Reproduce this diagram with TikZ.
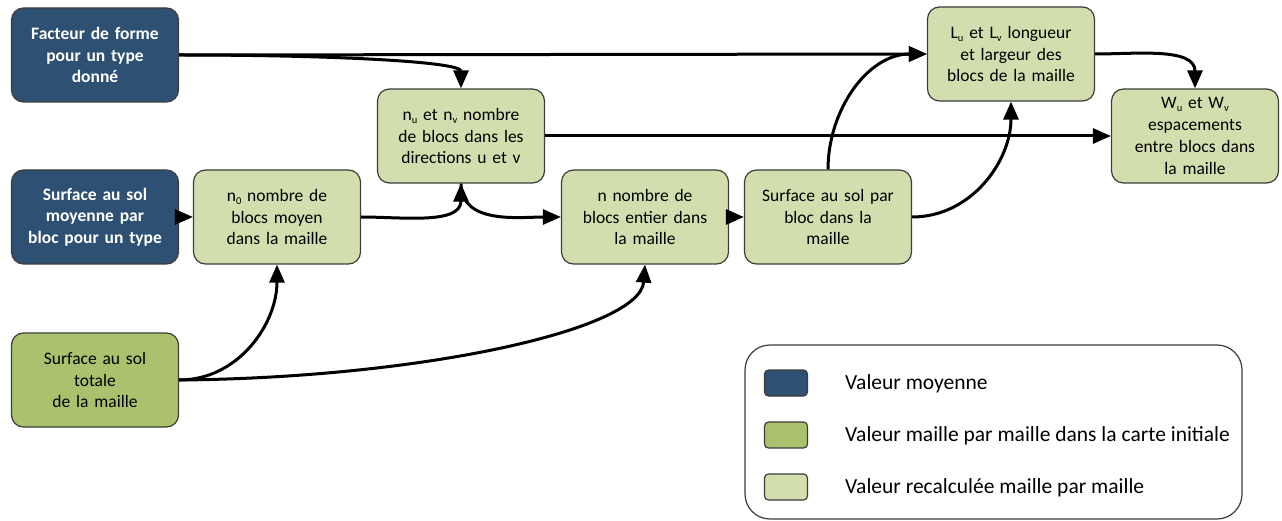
\documentclass[tikz,border=0pt]{standalone}
\usepackage{fontspec}
\setmainfont{Carlito}
\usetikzlibrary{arrows.meta}
\definecolor{darkbox}{HTML}{2E5173}
\definecolor{midbox}{HTML}{AAC16D}
\definecolor{lightbox}{HTML}{D2DEAE}
\definecolor{boxline}{HTML}{3C3C3C}
\newcommand{\lsub}[1]{\raisebox{-0.35ex}{\fontsize{10.5}{10.5}\selectfont #1}}
\begin{document}
\begin{tikzpicture}[x=1pt,y=-1pt,
  box/.style={draw=boxline,line width=1.2pt,rounded corners=12pt,minimum width=167pt,minimum height=94pt,
    text width=160pt,align=center,inner sep=2pt,font=\fontsize{17.5}{21.7}\selectfont},
  dark/.style={box,fill=darkbox,text=white,font=\fontsize{17.5}{21.7}\selectfont\bfseries},
  mid/.style={box,fill=midbox},
  light/.style={box,fill=lightbox},
  swatch/.style={draw=boxline,line width=1.2pt,rounded corners=4pt,minimum width=43pt,minimum height=26pt,inner sep=0pt},
  legtext/.style={anchor=west,inner sep=0pt,font=\fontsize{21.5}{25}\selectfont},
  arr/.style={line width=3pt,-{Triangle[length=18pt,width=15pt]}}]
\useasboundingbox (0,0) rectangle (1282,521);
\node[dark] (A) at (95,55) {Facteur de forme\\pour un type\\donné};
\node[dark] (B) at (95,217) {Surface au sol\\moyenne par\\bloc pour un type};
\node[mid] (C) at (95,380) {Surface au sol\\totale\\de la maille};
\node[light] (D) at (277,217) {n\lsub{0} nombre de\\blocs moyen\\dans la maille};
\node[light] (E) at (461,136) {n\lsub{u} et n\lsub{v} nombre\\de blocs dans les\\directions u et v};
\node[light] (F) at (645,217) {n nombre de\\blocs entier dans\\la maille};
\node[light] (G) at (828,217) {Surface au sol par\\bloc dans la\\maille};
\node[light] (H) at (1011,54) {L\lsub{u} et L\lsub{v} longueur\\et largeur des\\blocs de la maille};
\node[light] (I) at (1195,136) {W\lsub{u} et W\lsub{v}\\espacements\\entre blocs dans\\la maille};
% legend
\node[draw=boxline,line width=1.2pt,rounded corners=25pt,minimum width=497pt,minimum height=174pt,inner sep=0pt] (L) at (993.5,432) {};
\node[swatch,fill=darkbox] (S1) at (786,383) {};
\node[swatch,fill=midbox] (S2) at (786,435) {};
\node[swatch,fill=lightbox] (S3) at (786,487) {};
\node[legtext] (T1) at (845,384) {Valeur moyenne};
\node[legtext] (T2) at (845,436) {Valeur maille par maille dans la carte initiale};
\node[legtext] (T3) at (845,488) {Valeur recalculée maille par maille};
% connectors
\draw[arr] (A.east) -- (H.west);
\draw[arr] (A.east) .. controls (340,55) and (461,62) .. (E.north);
\draw[arr] (B.east) -- (D.west);
\draw[arr] (D.east) to[out=0,in=-90] (E.south);
\draw[arr] (E.south) to[out=-90,in=180] (F.west);
\draw[arr] (E.east) -- (I.west);
\draw[arr] (C.east) to[out=0,in=-90] (D.south);
\draw[arr] (C.east) .. controls (420,378) and (640,330) .. (F.south);
\draw[arr] (F.east) -- (G.west);
\draw[arr] (G.north) to[out=90,in=180] (H.west);
\draw[arr] (G.east) to[out=0,in=-90] (H.south);
\draw[arr] (H.east) to[out=0,in=90] (I.north);
\end{tikzpicture}
\end{document}
